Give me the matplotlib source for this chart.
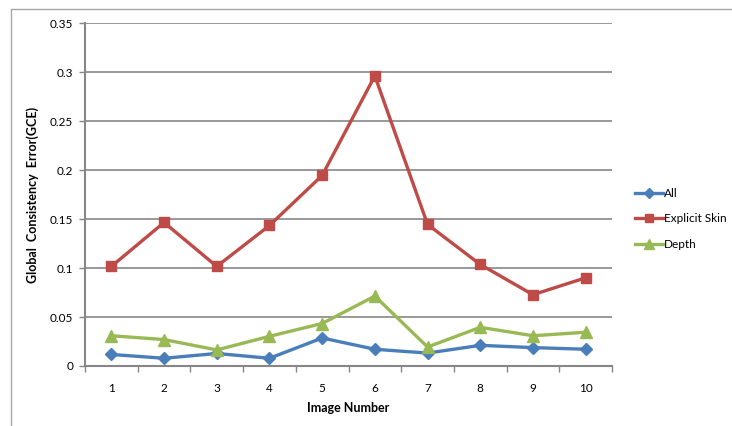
import numpy as np
import matplotlib
matplotlib.use('Agg')
import matplotlib.pyplot as plt
from matplotlib.lines import Line2D

# GCE por imagem para cada método
imagens = list(range(1, 11))
gce_all = [0.0118, 0.0079, 0.0128, 0.0079, 0.0286, 0.0171, 0.0132, 0.0211, 0.0188, 0.0171]
gce_skin = [0.1017, 0.1466, 0.1017, 0.1435, 0.1946, 0.2963, 0.1446, 0.1037, 0.0728, 0.0901]
gce_depth = [0.0309, 0.0270, 0.0164, 0.0303, 0.0434, 0.0714, 0.0194, 0.0395, 0.0309, 0.0345]
nomes = ['All', 'Explicit Skin', 'Depth']
y_ticks = [0, 0.05, 0.1, 0.15, 0.2, 0.25, 0.3, 0.35]
y_labels = ['0', '0.05', '0.1', '0.15', '0.2', '0.25', '0.3', '0.35']

cinza = '#868686'
plt.rcParams['font.family'] = ['Lato', 'DejaVu Sans']

fig = plt.figure(figsize=(7.32, 4.26), dpi=100)
ax = fig.add_axes([85 / 732, 60 / 426, 527 / 732, 342.7 / 426])

ax.plot(imagens, gce_all, color='#4A7EBB', lw=2.4, marker='D', ms=6, label=nomes[0])
ax.plot(imagens, gce_skin, color='#BE4B48', lw=2.4, marker='s', ms=6.5, label=nomes[1])
ax.plot(imagens, gce_depth, color='#98B954', lw=2.4, marker='^', ms=8, label=nomes[2])

ax.set_xlim(0.5, 10.5)
ax.set_ylim(0, 0.35)
ax.set_yticks(y_ticks)
ax.set_yticklabels(y_labels)
ax.set_xticks(imagens)
ax.set_xticks(np.arange(0.5, 11, 1), minor=True)
ax.tick_params(axis='x', which='major', length=0, pad=12, labelsize=8.5, colors='#000000')
ax.tick_params(axis='x', which='minor', length=4, width=1, color=cinza, direction='out')
ax.tick_params(axis='y', length=4.5, width=1, color=cinza, pad=4, labelsize=8.5)

ax.grid(axis='y', color=cinza, lw=1.2)
ax.set_axisbelow(True)
for lado in ['top', 'right']:
    ax.spines[lado].set_visible(False)
for lado in ['left', 'bottom']:
    ax.spines[lado].set_color(cinza)
    ax.spines[lado].set_linewidth(1.5)

ax.set_xlabel('Image Number', fontsize=9, fontweight='bold', labelpad=6)
ax.set_ylabel('Global  Consistency  Error(GCE)', fontsize=9, fontweight='bold', labelpad=8)

fig.legend(loc='center left', bbox_to_anchor=(630 / 732, 1 - 219 / 426), frameon=False,
           fontsize=8.5, handlelength=2.4, handletextpad=0.1, labelspacing=1.25,
           markerscale=0.85, borderaxespad=0)

# moldura da área do gráfico
fig.add_artist(Line2D([11 / 732, 11 / 732, 1.0], [0.0, 1 - 9 / 426, 1 - 9 / 426],
                      color='#A6A6A6', lw=1.0))

fig.savefig('out.png', dpi=100)
